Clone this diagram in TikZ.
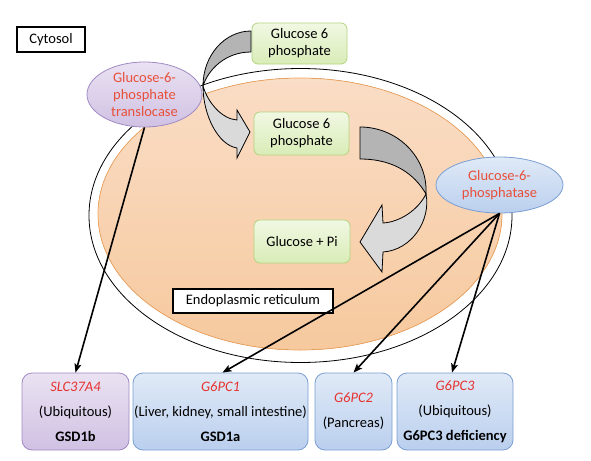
\documentclass[tikz,border=0pt]{standalone}
\usepackage{fontspec}
\setmainfont{Carlito}
\usepackage{tikz}
\usetikzlibrary{arrows.meta,shapes.geometric}

\definecolor{ertop}{HTML}{FADDC6}
\definecolor{erbot}{HTML}{F6C99E}
\definecolor{erline}{HTML}{F0A35C}
\definecolor{sugartop}{HTML}{F1F8E3}
\definecolor{sugarbot}{HTML}{D9ECB7}
\definecolor{sugarline}{HTML}{B2D57F}
\definecolor{purtop}{HTML}{EAE2F2}
\definecolor{purbot}{HTML}{D0C1E3}
\definecolor{purline}{HTML}{A08AC3}
\definecolor{blutop}{HTML}{E0EAF7}
\definecolor{blubot}{HTML}{BACFEE}
\definecolor{bluline}{HTML}{7A9ED2}
\definecolor{enzred}{HTML}{E8503A}
\definecolor{genered}{HTML}{E6332F}
\definecolor{curldark}{HTML}{B4B4B4}
\definecolor{curllight}{HTML}{DADADA}

\begin{document}
\begin{tikzpicture}[x=1pt,y=-1pt,
         txt/.style={font=\fontsize{14.5}{17}\selectfont},
         tag/.style={txt, draw=black, line width=1.3pt, fill=white, inner sep=0pt},
         sugar/.style={txt, draw=sugarline, line width=0.8pt, top color=sugartop, bottom color=sugarbot, rounded corners=6pt, align=center, inner sep=0pt},
         enzyme/.style={txt, ellipse, line width=0.8pt, align=center, inner sep=-2pt, text=enzred},
         gene/.style={font=\fontsize{14.5}{25}\selectfont, line width=0.8pt, rounded corners=10pt, align=center, inner sep=0pt, minimum height=77pt},
         link/.style={-{Stealth[length=9pt,width=7pt,inset=2pt]}, line width=1.6pt},
         curl/.style={draw=black, line width=0.8pt}]
         \useasboundingbox (0,0) rectangle (591,460);

         % membrane
         \fill[top color=ertop, bottom color=erbot] (300,214) ellipse [x radius=202, y radius=136];
         \draw[erline, line width=0.7pt] (300,214) ellipse [x radius=202, y radius=136];
         \draw[line width=0.8pt] (300.5,215.5) ellipse [x radius=211.5, y radius=147];

         \node[tag, minimum width=68pt, minimum height=25pt] (cytosol) at (51,39.5) {Cytosol};
         \node[tag, minimum width=160pt, minimum height=24pt] (er) at (253,301) {Endoplasmic reticulum};

         \node[sugar, minimum width=95pt, minimum height=41pt] (g6pout) at (299.5,43.5) {Glucose 6\\phosphate};
         \node[sugar, minimum width=95pt, minimum height=43pt] (g6pin) at (301.5,133.5) {Glucose 6\\phosphate};
         \node[sugar, minimum width=96pt, minimum height=43pt] (glupi) at (302,241.5) {Glucose + Pi};

         % curved arrows
         \filldraw[curl, fill=curldark] (251,31) .. controls (225,31) and (203,55) .. (203,86)
            .. controls (208,70) and (225,52) .. (251,52) -- cycle;
         \filldraw[curl, fill=curllight] (203,86) .. controls (203,115) and (218,145) .. (237,148)
            -- (237,158) -- (250,132) -- (237,110) -- (237,120)
            .. controls (222,119) and (208,103) .. (203,86) -- cycle;
         \filldraw[curl, fill=curldark] (360,127) .. controls (398,127) and (428,158) .. (426,194)
            .. controls (415,175) and (395,159) .. (360,159) -- cycle;
         \filldraw[curl, fill=curllight] (426,194) .. controls (431,220) and (412,250) .. (383,252)
            -- (382,272) -- (360,242) -- (382,205) -- (383,223)
            .. controls (400,222) and (418,210) .. (426,194) -- cycle;

         \node[enzyme, draw=purline, top color=purtop, bottom color=purbot, minimum width=115pt, minimum height=65pt] (trans) at (144.5,94.5) {Glucose-6-\\phosphate\\translocase};
         \node[enzyme, draw=bluline, top color=blutop, bottom color=blubot, minimum width=127pt, minimum height=56pt] (phos) at (499.5,185) {Glucose-6-\\phosphatase};

         \node[gene, draw=purline, top color=purtop, bottom color=purbot, minimum width=107pt] (slc) at (75.5,411.5) {{\color{genered}\itshape SLC37A4}\\(Ubiquitous)\\\textbf{GSD1b}};
         \node[gene, draw=bluline, top color=blutop, bottom color=blubot, minimum width=175pt] (pc1) at (220.5,411.5) {{\color{genered}\itshape G6PC1}\\(Liver, kidney, small intestine)\\\textbf{GSD1a}};
         \node[gene, draw=bluline, top color=blutop, bottom color=blubot, minimum width=77pt] (pc2) at (353.5,411.5) {{\color{genered}\itshape G6PC2}\\(Pancreas)};
         \node[gene, draw=bluline, top color=blutop, bottom color=blubot, minimum width=116pt] (pc3) at (455,411.5) {{\color{genered}\itshape G6PC3}\\(Ubiquitous)\\\textbf{G6PC3 deficiency}};

         \draw[link] (trans.south) -- (slc.north);
         \draw[link] (phos.south) -- ([xshift=2pt]pc1.north);
         \draw[link] (phos.south) -- (pc2.north);
         \draw[link] (phos.south) -- ([xshift=-3pt]pc3.north);
\end{tikzpicture}
\end{document}
